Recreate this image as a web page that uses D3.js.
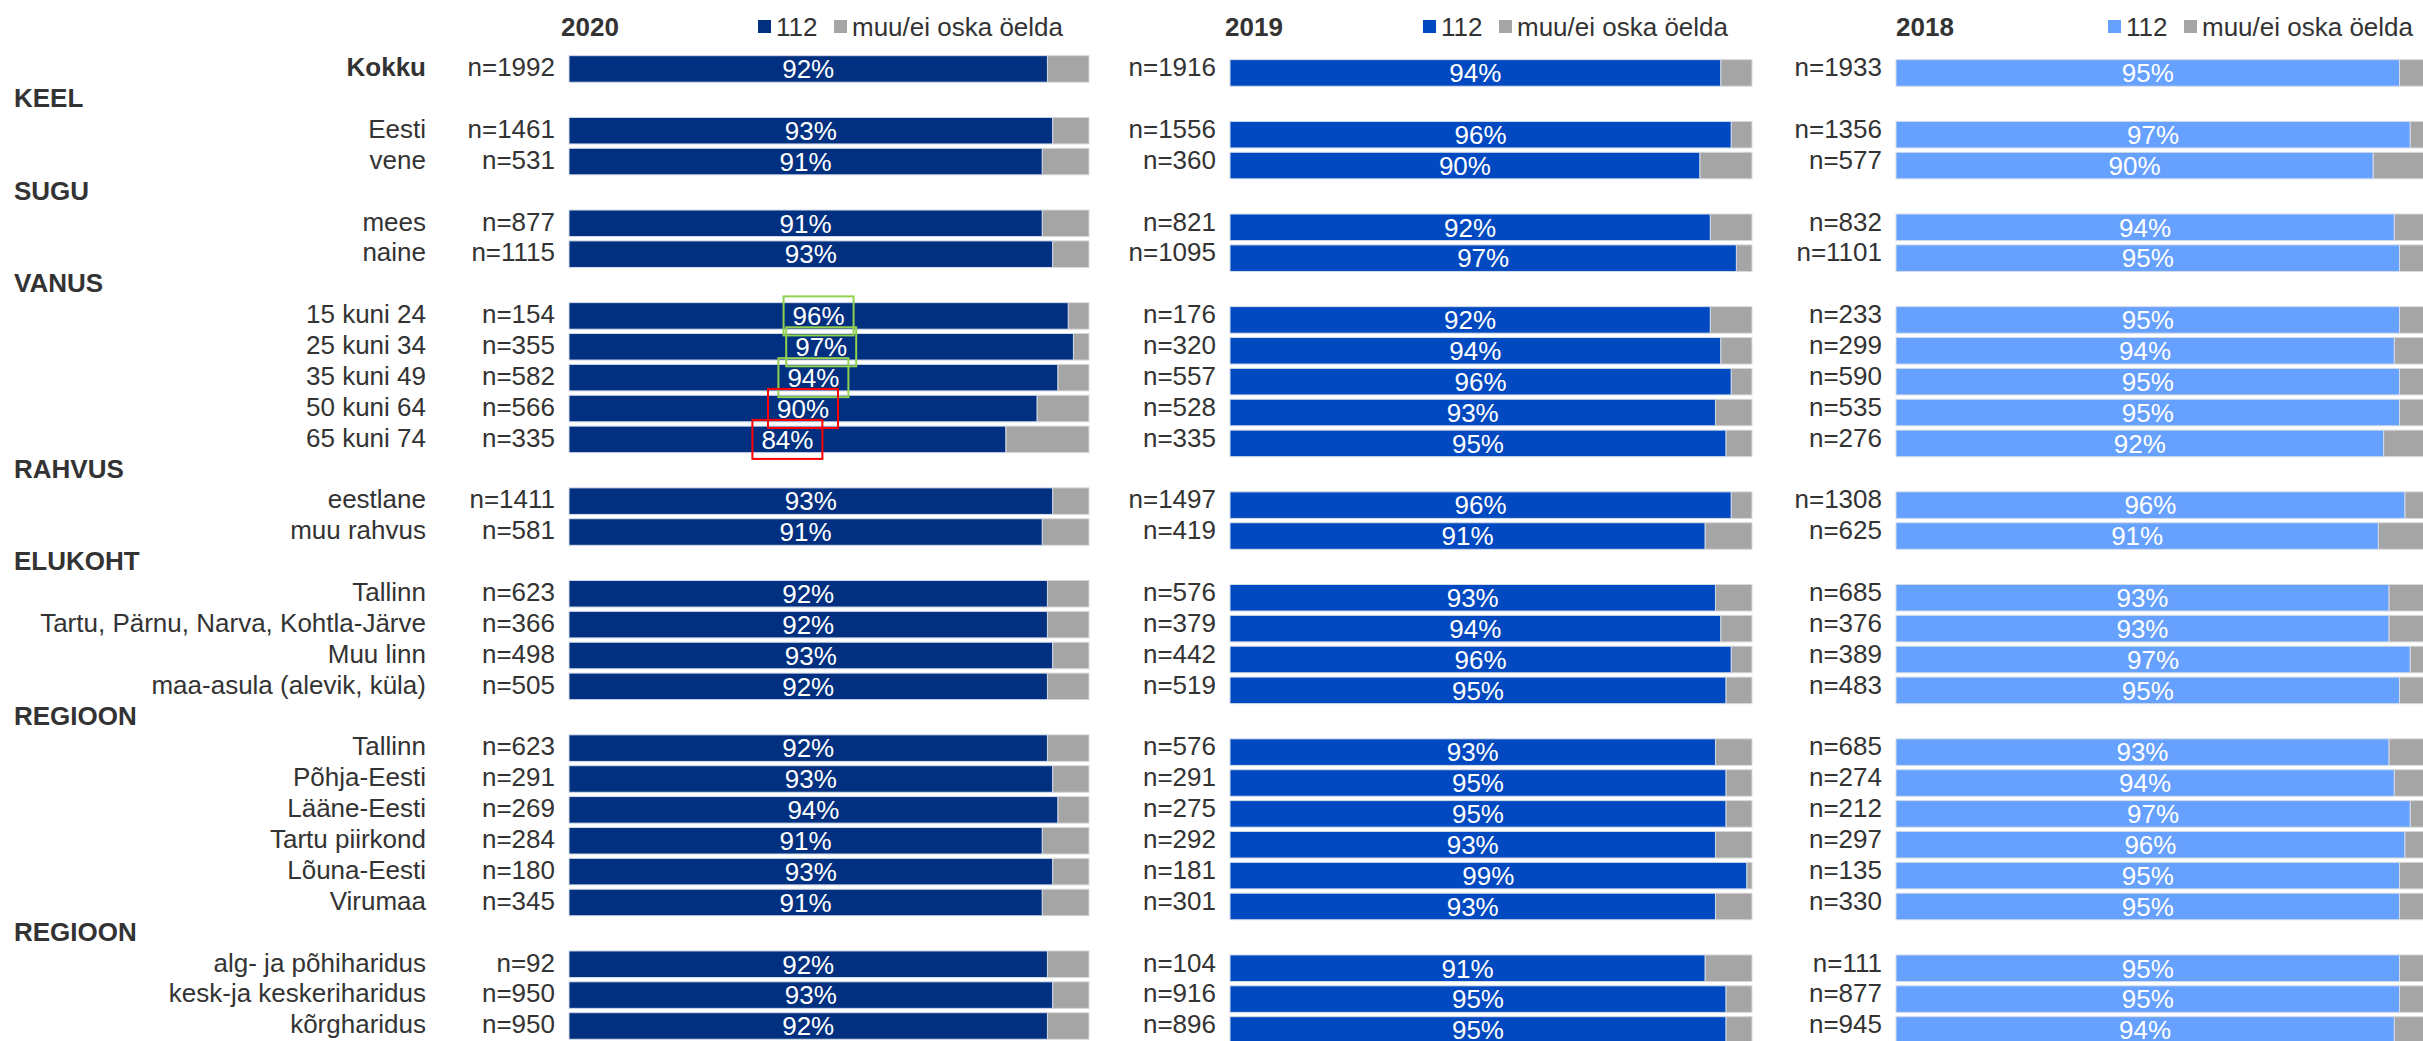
<!DOCTYPE html>
<html>
<head>
<meta charset="utf-8">
<script src="https://cdn.jsdelivr.net/npm/d3@7"></script>
<style>
  body { margin: 0; background: #fff; }
  svg { display: block; font-family: "Liberation Sans", Arial, sans-serif; }
</style>
</head>
<body>
<svg id="chart" width="2423" height="1041"></svg>
<script>
// rows as they appear top to bottom (group headers included)
var rowLabels = [
    "Kokku",
    "KEEL", "Eesti", "vene",
    "SUGU", "mees", "naine",
    "VANUS", "15 kuni 24", "25 kuni 34", "35 kuni 49", "50 kuni 64", "65 kuni 74",
    "RAHVUS", "eestlane", "muu rahvus",
    "ELUKOHT", "Tallinn", "Tartu, Pärnu, Narva, Kohtla-Järve", "Muu linn", "maa-asula (alevik, küla)",
    "REGIOON", "Tallinn", "Põhja-Eesti", "Lääne-Eesti", "Tartu piirkond", "Lõuna-Eesti", "Virumaa",
    "REGIOON", "alg- ja põhiharidus", "kesk-ja keskeriharidus", "kõrgharidus"
];
var headerLabels = ["KEEL", "SUGU", "VANUS", "RAHVUS", "ELUKOHT", "REGIOON"];

var years = ["2020", "2019", "2018"];
var legendLabels = ["112", "muu/ei oska öelda"];

// values for the non-header rows, in order
var pct2020 = [92, 93, 91, 91, 93, 96, 97, 94, 90, 84, 93, 91, 92, 92, 93, 92, 92, 93, 94, 91, 93, 91, 92, 93, 92];
var n2020 = [1992, 1461, 531, 877, 1115, 154, 355, 582, 566, 335, 1411, 581, 623, 366, 498, 505, 623, 291, 269, 284, 180, 345, 92, 950, 950];
var pct2019 = [94, 96, 90, 92, 97, 92, 94, 96, 93, 95, 96, 91, 93, 94, 96, 95, 93, 95, 95, 93, 99, 93, 91, 95, 95];
var n2019 = [1916, 1556, 360, 821, 1095, 176, 320, 557, 528, 335, 1497, 419, 576, 379, 442, 519, 576, 291, 275, 292, 181, 301, 104, 916, 896];
var pct2018 = [95, 97, 90, 94, 95, 95, 94, 95, 95, 92, 96, 91, 93, 93, 97, 95, 93, 94, 97, 96, 95, 95, 95, 95, 94];
var n2018 = [1933, 1356, 577, 832, 1101, 233, 299, 590, 535, 276, 1308, 625, 685, 376, 389, 483, 685, 274, 212, 297, 135, 330, 111, 877, 945];

// annotated 2020 labels
var goodRows = ["15 kuni 24", "25 kuni 34", "35 kuni 49"];
var badRows = ["50 kuni 64", "65 kuni 74"];

var svg = d3.select("#chart");
var textColor = "#333333";
var fontSize = 26;

var panels = [
    { year: years[0], pct: pct2020, n: n2020, color: "#00307f", x0: 569, w: 520, dy: 0, titleX: 561, legendX: 758 },
    { year: years[1], pct: pct2019, n: n2019, color: "#0049c0", x0: 1230, w: 522, dy: 4, titleX: 1225, legendX: 1423 },
    { year: years[2], pct: pct2018, n: n2018, color: "#66a1ff", x0: 1896, w: 530, dy: 4, titleX: 1896, legendX: 2108 }
];

var y = d3.scaleBand()
    .domain(d3.range(rowLabels.length))
    .range([53.5, 1041.4])
    .paddingInner(0.14)
    .paddingOuter(0.07);

// map each row to its data index (-1 for headers)
var rows = [];
var k = 0;
rowLabels.forEach(function (label, i) {
    var isHeader = headerLabels.indexOf(label) >= 0;
    rows.push({ label: label, row: i, header: isHeader, idx: isHeader ? -1 : k });
    if (!isHeader) k++;
});
var items = rows.filter(function (d) { return !d.header; });

function mid(i) { return y(i) + y.bandwidth() / 2; }
var baseShift = fontSize * 0.358;

// category labels and headers
svg.append("g").selectAll("text")
    .data(rows)
    .enter().append("text")
    .attr("x", function (d) { return d.header ? 14 : 426; })
    .attr("y", function (d) { return mid(d.row) - 2 + baseShift; })
    .attr("text-anchor", function (d) { return d.header ? "start" : "end"; })
    .attr("font-size", fontSize)
    .attr("font-weight", function (d) { return (d.header || d.label === "Kokku") ? "bold" : "normal"; })
    .attr("fill", textColor)
    .text(function (d) { return d.label; });

panels.forEach(function (p) {
    var x = d3.scaleLinear().domain([0, 100]).range([p.x0, p.x0 + p.w]);
    var g = svg.append("g");

    // title
    g.append("text")
        .attr("x", p.titleX)
        .attr("y", 27 + baseShift)
        .attr("font-size", fontSize)
        .attr("font-weight", "bold")
        .attr("fill", textColor)
        .text(p.year);

    // legend
    var lg = g.append("g").attr("transform", "translate(" + p.legendX + ",0)");
    lg.append("rect").attr("x", 0).attr("y", 20).attr("width", 13).attr("height", 13).attr("fill", p.color);
    lg.append("text").attr("x", 18).attr("y", 27 + baseShift).attr("font-size", fontSize).attr("fill", textColor).text(legendLabels[0]);
    lg.append("rect").attr("x", 76).attr("y", 20).attr("width", 13).attr("height", 13).attr("fill", "#a5a5a5");
    lg.append("text").attr("x", 94).attr("y", 27 + baseShift).attr("font-size", fontSize).attr("fill", textColor).text(legendLabels[1]);

    // n labels
    g.selectAll(".nlab")
        .data(items)
        .enter().append("text")
        .attr("class", "nlab")
        .attr("x", p.x0 - 14)
        .attr("y", function (d) { return mid(d.row) - 2 + baseShift; })
        .attr("text-anchor", "end")
        .attr("font-size", fontSize)
        .attr("fill", textColor)
        .text(function (d) { return "n=" + p.n[d.idx]; });

    // grey remainder
    g.selectAll(".rest")
        .data(items)
        .enter().append("rect")
        .attr("class", "rest")
        .attr("x", function (d) { return x(p.pct[d.idx]); })
        .attr("y", function (d) { return y(d.row) + p.dy; })
        .attr("width", function (d) { return x(100) - x(p.pct[d.idx]); })
        .attr("height", y.bandwidth())
        .attr("fill", "#a5a5a5")
        .attr("stroke", "#d9d9d9")
        .attr("stroke-width", 1);

    // 112 share
    g.selectAll(".main")
        .data(items)
        .enter().append("rect")
        .attr("class", "main")
        .attr("x", x(0))
        .attr("y", function (d) { return y(d.row) + p.dy; })
        .attr("width", function (d) { return x(p.pct[d.idx]) - x(0); })
        .attr("height", y.bandwidth())
        .attr("fill", p.color)
        .attr("stroke", "#d3dbe8")
        .attr("stroke-width", 1);

    // percentage labels
    g.selectAll(".plab")
        .data(items)
        .enter().append("text")
        .attr("class", "plab")
        .attr("x", function (d) { return (x(0) + x(p.pct[d.idx])) / 2; })
        .attr("y", function (d) { return mid(d.row) + p.dy + baseShift; })
        .attr("text-anchor", "middle")
        .attr("font-size", fontSize)
        .attr("fill", "#ffffff")
        .text(function (d) { return p.pct[d.idx] + "%"; });

    // annotation boxes (2020 only)
    if (p.year === "2020") {
        var marked = items.filter(function (d) {
            return goodRows.indexOf(d.label) >= 0 || badRows.indexOf(d.label) >= 0;
        });
        g.selectAll(".mark")
            .data(marked)
            .enter().append("rect")
            .attr("class", "mark")
            .attr("x", function (d) { return (x(0) + x(p.pct[d.idx])) / 2 - 35; })
            .attr("y", function (d) { return mid(d.row) - 19.5; })
            .attr("width", 70)
            .attr("height", 39)
            .attr("fill", "none")
            .attr("stroke", function (d) { return goodRows.indexOf(d.label) >= 0 ? "#92d050" : "#ff0000"; })
            .attr("stroke-width", 2);
    }
});
</script>
</body>
</html>
